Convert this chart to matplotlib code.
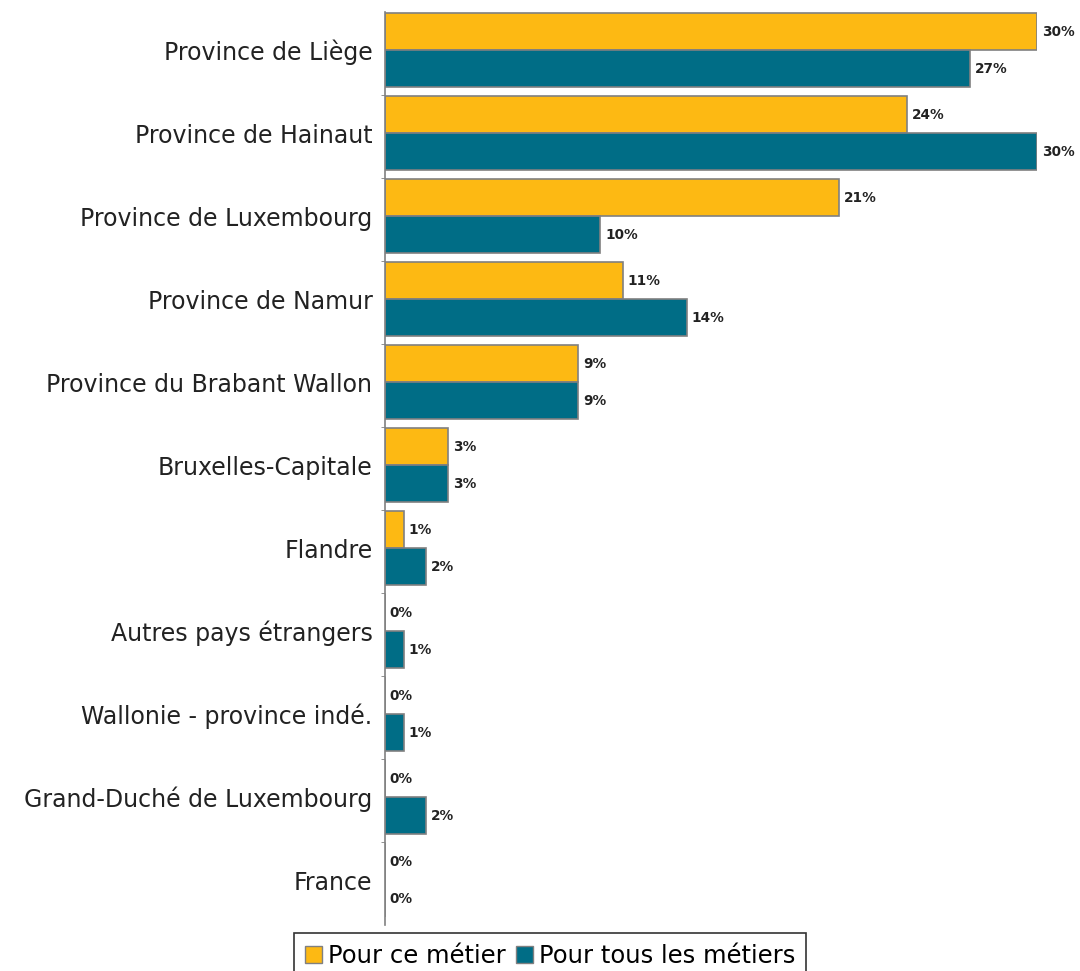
import matplotlib
matplotlib.use("Agg")
import matplotlib.pyplot as plt
from matplotlib.patches import Patch

categories = ["Province de Liège", "Province de Hainaut", "Province de Luxembourg",
              "Province de Namur", "Province du Brabant Wallon", "Bruxelles-Capitale",
              "Flandre", "Autres pays étrangers", "Wallonie - province indé.",
              "Grand-Duché de Luxembourg", "France"]
series_names = ["Pour ce métier", "Pour tous les métiers"]
ce_metier = [30.0, 24.0, 20.9, 10.95, 8.9, 2.9, 0.87, 0.0, 0.0, 0.0, 0.0]
tous_metiers = [26.9, 30.0, 9.9, 13.9, 8.9, 2.9, 1.9, 0.87, 0.87, 1.9, 0.0]
ce_labels = ["30%", "24%", "21%", "11%", "9%", "3%", "1%", "0%", "0%", "0%", "0%"]
tous_labels = ["27%", "30%", "10%", "14%", "9%", "3%", "2%", "1%", "1%", "2%", "0%"]

colors = ["#FDB913", "#006D86"]
W, H = 1080, 971
fig = plt.figure(figsize=(W / 100, H / 100), dpi=100)
ax = fig.add_axes([385 / W, 1 - 925 / H, (1037 - 385) / W, (925 - 12) / H])

n = len(categories)
bh = 0.446
off = 0.012
idx = list(range(n))
ax.barh([i + off for i in idx], ce_metier, height=bh, align="edge",
        color=colors[0], edgecolor="#808080", linewidth=1.2)
ax.barh([i + off + bh for i in idx], tous_metiers, height=bh, align="edge",
        color=colors[1], edgecolor="#808080", linewidth=1.2)

for i in idx:
    ax.text(ce_metier[i] + 0.22, i + off + bh / 2, ce_labels[i], va="center", ha="left",
            fontsize=9.8, fontweight="bold", color="#222222", clip_on=False)
    ax.text(tous_metiers[i] + 0.22, i + off + 1.5 * bh, tous_labels[i], va="center", ha="left",
            fontsize=9.8, fontweight="bold", color="#222222", clip_on=False)

ax.set_xlim(0, 30)
ax.set_ylim(n, 0)
ax.set_yticks([i + off + bh for i in idx])
ax.set_yticklabels(categories, fontsize=17, color="#222222")
ax.tick_params(axis="y", which="major", length=0, pad=9)
ax.set_yticks([i for i in range(1, n)], minor=True)
ax.tick_params(axis="y", which="minor", length=3, color="#808080")
ax.set_xticks([])
for s in ["top", "right", "bottom"]:
    ax.spines[s].set_visible(False)
ax.spines["left"].set_color("#808080")
ax.spines["left"].set_linewidth(1.2)

handles = [Patch(facecolor=colors[0], edgecolor="#808080"),
           Patch(facecolor=colors[1], edgecolor="#808080")]
leg = fig.legend(handles, series_names, loc="upper center", bbox_to_anchor=(550 / W, 1 - 933 / H),
                 ncol=2, fontsize=17.5, handlelength=0.7, handleheight=0.7, handletextpad=0.25,
                 columnspacing=0.4, borderpad=0.45, borderaxespad=0, fancybox=False, frameon=True)
leg.get_frame().set_edgecolor("black")
leg.get_frame().set_linewidth(1.2)

fig.savefig("out.png", dpi=100)
